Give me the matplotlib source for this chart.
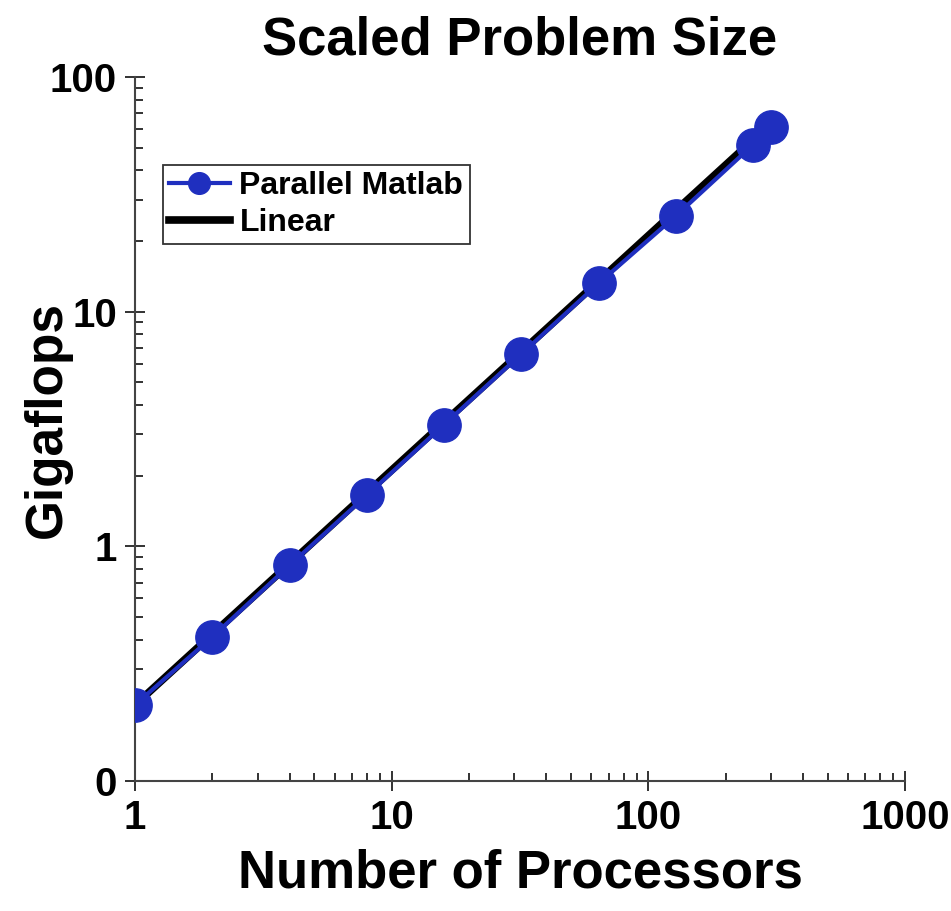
import matplotlib
matplotlib.use("Agg")
import matplotlib.pyplot as plt
from matplotlib.ticker import FixedLocator, FixedFormatter, LogLocator, NullFormatter

# Data
procs = [1, 2, 4, 8, 16, 32, 64, 128, 256, 300]
gflops = [0.211, 0.411, 0.83, 1.65, 3.3, 6.6, 13.2, 25.6, 51.5, 61.0]
linear_procs = [1, 2, 4, 8, 16, 32, 64, 128, 256]
linear_gflops = [0.211, 0.422, 0.844, 1.69, 3.38, 6.75, 13.5, 27.0, 54.0]

xticks = [1, 10, 100, 1000]
xtick_labels = ["1", "10", "100", "1000"]
yticks = [0.1, 1, 10, 100]
ytick_labels = ["0", "1", "10", "100"]

blue = "#1f2fbf"

plt.rcParams["font.family"] = ["Liberation Sans", "DejaVu Sans"]
plt.rcParams["font.weight"] = "bold"

fig = plt.figure(figsize=(9.51, 9.11), dpi=100)
ax = fig.add_axes([0.142, 0.1427, 0.8097, 0.7728])

ax.plot(procs, gflops, "-o", color=blue, lw=3, markersize=24, label="Parallel Matlab", zorder=3)
ax.plot(linear_procs, linear_gflops, "-", color="black", lw=5.5, label="Linear", zorder=2)

ax.set_xscale("log")
ax.set_yscale("log")
ax.set_xlim(1, 1000)
ax.set_ylim(0.1, 100)

ax.xaxis.set_major_locator(FixedLocator(xticks))
ax.xaxis.set_major_formatter(FixedFormatter(xtick_labels))
ax.yaxis.set_major_locator(FixedLocator(yticks))
ax.yaxis.set_major_formatter(FixedFormatter(ytick_labels))
ax.xaxis.set_minor_locator(LogLocator(base=10, subs=range(2, 10)))
ax.yaxis.set_minor_locator(LogLocator(base=10, subs=range(2, 10)))
ax.xaxis.set_minor_formatter(NullFormatter())
ax.yaxis.set_minor_formatter(NullFormatter())

ax.tick_params(which="major", direction="inout", length=14, width=1.3, labelsize=29, pad=6, color="#222222")
ax.tick_params(which="minor", direction="in", length=6, width=1.3, color="#222222")
for lab in ax.get_xticklabels() + ax.get_yticklabels():
    lab.set_fontweight("bold")

for side in ["top", "right"]:
    ax.spines[side].set_visible(False)
for side in ["left", "bottom"]:
    ax.spines[side].set_color("#444444")
    ax.spines[side].set_linewidth(1.5)

ax.set_title("Scaled Problem Size", fontsize=38, fontweight="bold", pad=16)
ax.set_xlabel("Number of Processors", fontsize=38, fontweight="bold", labelpad=8)
ax.set_ylabel("Gigaflops", fontsize=37, fontweight="bold")
ax.yaxis.set_label_coords(-0.082, 0.513)

leg = ax.legend(loc="upper left", bbox_to_anchor=(0.036, 0.875), fontsize=23,
                frameon=True, fancybox=False, edgecolor="#333333", framealpha=1,
                handlelength=1.9, handletextpad=0.3, borderpad=0.2, labelspacing=0.2,
                markerscale=0.65, borderaxespad=0)
leg.get_frame().set_linewidth(1.3)
for t in leg.get_texts():
    t.set_fontweight("bold")

fig.savefig("out.png", dpi=100)
